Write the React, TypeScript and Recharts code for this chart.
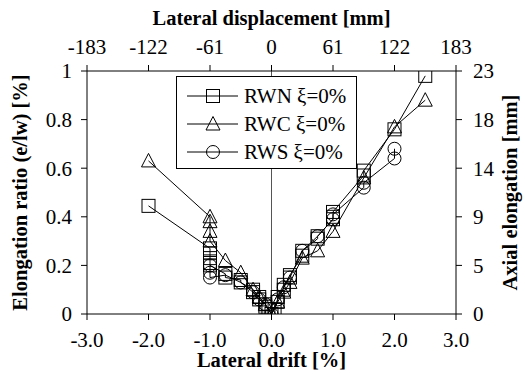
import { ScatterChart, Scatter, XAxis, YAxis, ReferenceLine, Legend, Label } from 'recharts';

const driftTicks = [-3, -2, -1, 0, 1, 2, 3];
const displacementLabels = ['-183', '-122', '-61', '0', '61', '122', '183'];
const ratioTicks = [0, 0.2, 0.4, 0.6, 0.8, 1];
const elongationLabels = ['0', '5', '9', '14', '18', '23'];

const rwn = [
  { x: -2.0, y: 0.445 },
  { x: -1.0, y: 0.27 }, { x: -1.0, y: 0.25 }, { x: -1.0, y: 0.23 }, { x: -1.0, y: 0.21 }, { x: -1.0, y: 0.2 },
  { x: -0.75, y: 0.165 }, { x: -0.75, y: 0.15 },
  { x: -0.5, y: 0.14 }, { x: -0.5, y: 0.13 },
  { x: -0.3, y: 0.1 }, { x: -0.3, y: 0.09 },
  { x: -0.2, y: 0.07 }, { x: -0.2, y: 0.06 },
  { x: -0.1, y: 0.04 }, { x: -0.1, y: 0.03 },
  { x: -0.05, y: 0.02 },
  { x: 0, y: 0 },
  { x: 0.05, y: 0.02 },
  { x: 0.1, y: 0.05 }, { x: 0.1, y: 0.07 },
  { x: 0.2, y: 0.1 }, { x: 0.2, y: 0.12 },
  { x: 0.3, y: 0.15 }, { x: 0.3, y: 0.16 },
  { x: 0.5, y: 0.24 }, { x: 0.5, y: 0.26 },
  { x: 0.75, y: 0.31 }, { x: 0.75, y: 0.32 },
  { x: 1.0, y: 0.39 }, { x: 1.0, y: 0.4 }, { x: 1.0, y: 0.42 },
  { x: 1.5, y: 0.57 }, { x: 1.5, y: 0.59 },
  { x: 2.0, y: 0.76 },
  { x: 2.5, y: 0.98 },
];

const rwc = [
  { x: -2.0, y: 0.63 },
  { x: -1.0, y: 0.4 }, { x: -1.0, y: 0.38 }, { x: -1.0, y: 0.34 }, { x: -1.0, y: 0.3 },
  { x: -0.75, y: 0.22 },
  { x: -0.5, y: 0.17 },
  { x: -0.3, y: 0.1 },
  { x: -0.2, y: 0.07 },
  { x: -0.1, y: 0.04 },
  { x: 0, y: 0 },
  { x: 0.1, y: 0.05 },
  { x: 0.2, y: 0.09 },
  { x: 0.3, y: 0.13 },
  { x: 0.5, y: 0.23 },
  { x: 0.75, y: 0.26 },
  { x: 1.0, y: 0.34 },
  { x: 1.5, y: 0.56 },
  { x: 2.0, y: 0.77 },
  { x: 2.5, y: 0.88 },
];

const rws = [
  { x: -1.0, y: 0.2 }, { x: -1.0, y: 0.17 }, { x: -1.0, y: 0.15 },
  { x: -0.75, y: 0.16 },
  { x: -0.5, y: 0.13 },
  { x: -0.3, y: 0.09 },
  { x: -0.2, y: 0.06 },
  { x: -0.1, y: 0.04 },
  { x: 0, y: 0 },
  { x: 0.1, y: 0.06 },
  { x: 0.2, y: 0.11 },
  { x: 0.3, y: 0.15 },
  { x: 0.5, y: 0.26 },
  { x: 0.75, y: 0.32 },
  { x: 1.0, y: 0.39 }, { x: 1.0, y: 0.41 },
  { x: 1.5, y: 0.52 }, { x: 1.5, y: 0.54 },
  { x: 2.0, y: 0.64 }, { x: 2.0, y: 0.68 },
];

const FONT = 'Liberation Serif';

function Marker({ kind, cx, cy }: { kind: string; cx: number; cy: number }) {
  const common = { fill: 'none', stroke: '#000', strokeWidth: 1 };
  if (kind === 'square') return <rect x={cx - 6.5} y={cy - 6.5} width={13} height={13} {...common} />;
  if (kind === 'triangle')
    return <polygon points={`${cx},${cy - 7.5} ${cx - 7},${cy + 6} ${cx + 7},${cy + 6}`} {...common} />;
  return <circle cx={cx} cy={cy} r={6.5} {...common} />;
}

const series = [
  { name: 'RWN ξ=0%', data: rwn, kind: 'square' },
  { name: 'RWC ξ=0%', data: rwc, kind: 'triangle' },
  { name: 'RWS ξ=0%', data: rws, kind: 'circle' },
];

function LegendBox() {
  return (
    <div style={styles.legend}>
      {series.map((s) => (
        <div key={s.name} style={styles.legendRow}>
          <svg width={57} height={20} style={{ display: 'block' }}>
            <line x1={0} y1={10} x2={51} y2={10} stroke="#000" strokeWidth={1} />
            <Marker kind={s.kind} cx={26} cy={10} />
          </svg>
          <span>{s.name}</span>
        </div>
      ))}
    </div>
  );
}

const tickStyle = { fill: '#000', fontSize: 21, fontFamily: FONT };
const titleStyle = { fill: '#000', fontSize: 20.5, fontWeight: 700, fontFamily: FONT };

export default function App() {
  return (
    <div style={{ position: 'absolute', left: 0, top: 0, width: 525, height: 374, background: '#fff', fontFamily: FONT }}>
      <ScatterChart width={525} height={374} margin={{ top: 0, right: 0, bottom: 0, left: 0 }}>
        <XAxis
          xAxisId="b" type="number" dataKey="x" domain={[-3, 3]} ticks={driftTicks}
          tickFormatter={(v: number) => v.toFixed(1)} height={60} tick={tickStyle}
          stroke="#000" tickSize={6} tickMargin={12} allowDataOverflow
        >
          <Label value="Lateral drift [%]" position="insideBottom" offset={7} style={titleStyle} />
        </XAxis>
        <XAxis
          xAxisId="t" orientation="top" type="number" dataKey="x" domain={[-3, 3]} ticks={driftTicks}
          tickFormatter={(_v: number, i: number) => displacementLabels[i]} height={71} tick={tickStyle}
          stroke="#000" tickSize={6} tickMargin={11} allowDataOverflow
        >
          <Label value="Lateral displacement [mm]" position="insideTop" offset={10} style={titleStyle} />
        </XAxis>
        <YAxis
          yAxisId="l" type="number" dataKey="y" domain={[0, 1]} ticks={ratioTicks} width={87}
          tick={tickStyle} stroke="#000" tickSize={6} tickMargin={9} allowDataOverflow
        >
          <Label value="Elongation ratio (e/lw) [%]" angle={-90} position="insideLeft" offset={20} textAnchor="middle" style={{ ...titleStyle, textAnchor: 'middle' }} />
        </YAxis>
        <YAxis
          yAxisId="r" orientation="right" type="number" dataKey="y" domain={[0, 1]} ticks={ratioTicks} width={69}
          tickFormatter={(_v: number, i: number) => elongationLabels[i]}
          tick={tickStyle} stroke="#000" tickSize={6} tickMargin={11} allowDataOverflow
        >
          <Label value="Axial elongation [mm]" angle={-90} position="insideRight" offset={15} textAnchor="middle" style={{ ...titleStyle, textAnchor: 'middle' }} />
        </YAxis>
        <ReferenceLine xAxisId="b" yAxisId="l" x={0} stroke="#555" strokeWidth={1} />
        {series.map((s) => (
          <Scatter
            key={s.name} name={s.name} data={s.data} xAxisId="b" yAxisId="l"
            line={{ stroke: '#000', strokeWidth: 1 }}
            shape={(p: any) => <Marker kind={s.kind} cx={p.cx} cy={p.cy} />}
            isAnimationActive={false}
          />
        ))}
        <Legend
          layout="horizontal" verticalAlign="middle" align="center"
          wrapperStyle={{ position: 'absolute', left: 176, top: 76, width: 'auto', height: 'auto' }}
          content={() => <LegendBox />}
        />
      </ScatterChart>
    </div>
  );
}

const styles: Record<string, React.CSSProperties> = {
  legend: {
    border: '1px solid #000', background: '#fff', width: 181, height: 93, boxSizing: 'border-box',
    padding: '5px 0 0 10px', fontFamily: FONT, fontSize: 21, color: '#000',
  },
  legendRow: { display: 'flex', alignItems: 'center', height: 28, lineHeight: '20px' },
};
